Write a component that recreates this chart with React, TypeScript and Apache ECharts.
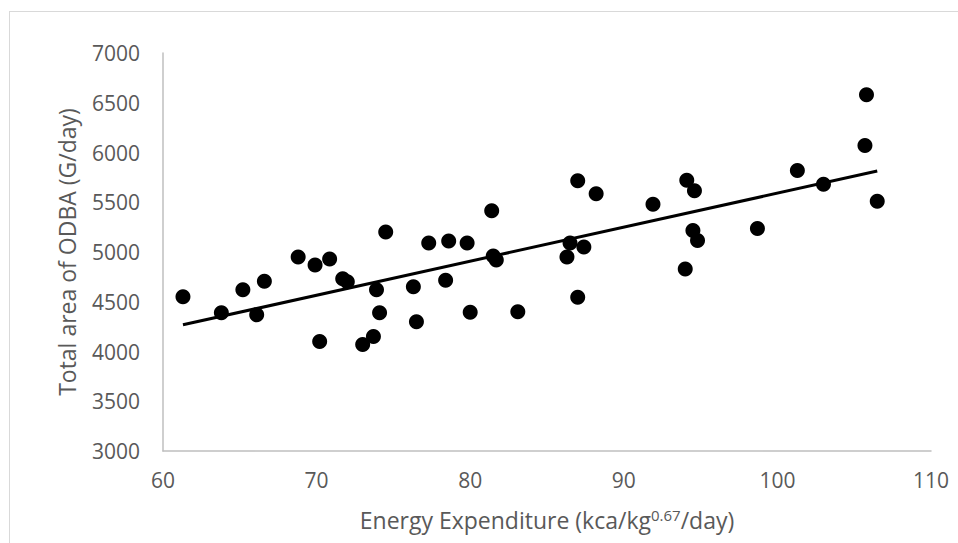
import React, { useEffect, useRef } from "react";
import * as echarts from "echarts";

const energyExpenditure: number[] = [
  61.3, 63.8, 65.2, 66.1, 66.6, 68.8, 69.9, 70.85, 70.2, 71.7, 72.0, 73.0, 73.7, 73.9, 74.1,
  74.5, 76.3, 76.5, 77.3, 78.4, 78.6, 79.8, 80.0, 81.4, 81.5, 81.7, 83.1, 86.3, 86.5, 87.0,
  87.0, 87.4, 88.2, 91.9, 94.0, 94.1, 94.6, 94.5, 94.8, 98.7, 101.3, 103.0, 105.8, 105.7, 106.5,
];
const totalOdba: number[] = [
  4550, 4390, 4620, 4370, 4705, 4950, 4870, 4930, 4100, 4730, 4700, 4070, 4150, 4620, 4390,
  5200, 4650, 4300, 5090, 4715, 5110, 5090, 4395, 5415, 4960, 4920, 4400, 4950, 5090, 5715,
  4545, 5050, 5585, 5480, 4830, 5720, 5615, 5215, 5115, 5235, 5820, 5680, 6580, 6070, 5510,
];
const trendX: number[] = [61.3, 106.5];
const trendY: number[] = [4268, 5814];
const xTicks = { min: 60, max: 110, interval: 10 };
const yTicks = { min: 3000, max: 7000, interval: 500 };

export default function App() {
  const ref = useRef<HTMLDivElement>(null);
  useEffect(() => {
    if (!ref.current) return;
    const chart = echarts.init(ref.current, undefined, { renderer: "svg" });
    const font = "'Open Sans', sans-serif";
    chart.setOption({
      animation: false,
      grid: { left: 163, right: 27, top: 53, bottom: 92 },
      xAxis: {
        type: "value",
        min: xTicks.min,
        max: xTicks.max,
        interval: xTicks.interval,
        splitLine: { show: false },
        axisTick: { show: false },
        axisLine: { show: true, lineStyle: { color: "#bfbfbf", width: 1.5 } },
        axisLabel: { color: "#595959", fontFamily: font, fontSize: 21, margin: 18, formatter: (v: number) => String(v) },
        name: "Energy Expenditure (kca/kg{sup|0.67}/day)",
        nameLocation: "middle",
        nameGap: 56,
        nameTextStyle: {
          color: "#595959",
          fontFamily: font,
          fontSize: 23,
          rich: {
            sup: { fontSize: 15, fontFamily: font, color: "#595959", verticalAlign: "top", padding: [0, 0, 10, 0] },
          },
        },
      },
      yAxis: {
        type: "value",
        min: yTicks.min,
        max: yTicks.max,
        interval: yTicks.interval,
        splitLine: { show: false },
        axisTick: { show: false },
        axisLine: { show: true, lineStyle: { color: "#bfbfbf", width: 1.5 } },
        axisLabel: { color: "#595959", fontFamily: font, fontSize: 21, margin: 23, formatter: (v: number) => String(v) },
        name: "Total area of ODBA (G/day)",
        nameLocation: "middle",
        nameGap: 85,
        nameTextStyle: { color: "#595959", fontFamily: font, fontSize: 23 },
      },
      series: [
        {
          type: "scatter",
          data: energyExpenditure.map((x, i) => [x, totalOdba[i]]),
          symbol: "circle",
          symbolSize: 15,
          itemStyle: { color: "#000000", opacity: 1 },
          z: 3,
        },
        {
          type: "line",
          data: trendX.map((x, i) => [x, trendY[i]]),
          showSymbol: false,
          symbol: "none",
          lineStyle: { color: "#000000", width: 3 },
          z: 2,
        },
      ],
    });
    return () => chart.dispose();
  }, []);
  return (
    <div style={{ position: "absolute", left: 0, top: 0, width: 958, height: 543, overflow: "hidden", background: "#fff" }}>
      <div
        style={{
          position: "absolute",
          left: 9,
          top: 11,
          width: 3000,
          height: 3000,
          borderLeft: "1px solid #d9d9d9",
          borderTop: "1px solid #d9d9d9",
        }}
      />
      <div ref={ref} style={{ position: "absolute", left: 0, top: 0, width: 958, height: 543 }} />
    </div>
  );
}
